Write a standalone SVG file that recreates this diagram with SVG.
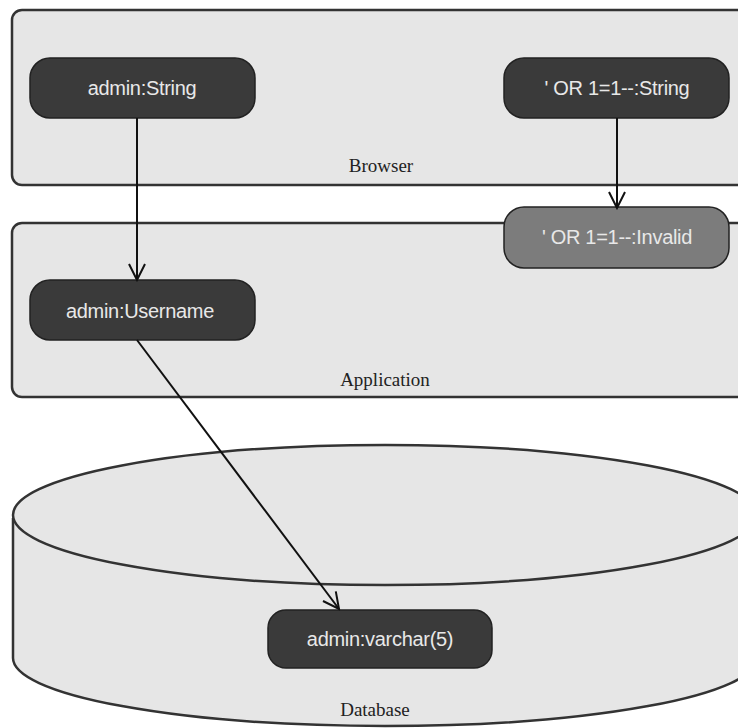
<svg xmlns="http://www.w3.org/2000/svg" width="738" height="728" viewBox="0 0 738 728">
<style>
.zone{fill:#e6e6e6;stroke:#333;stroke-width:2.5}
.node{fill:#3a3a3a;stroke:#222;stroke-width:1.5}
.inv{fill:#7c7c7c;stroke:#222;stroke-width:1.5}
.nt{font-family:"Liberation Sans",Arial,sans-serif;font-size:20px;fill:#e8e8e8;text-anchor:middle;letter-spacing:-0.3px}
.zt{font-family:"Liberation Serif","Times New Roman",serif;font-size:19px;fill:#222;text-anchor:middle}
.edge{stroke:#111;stroke-width:2;fill:none;marker-end:url(#arr)}
</style>
<defs>
<marker id="arr" viewBox="0 0 20 20" refX="18" refY="10" markerWidth="20" markerHeight="20" markerUnits="userSpaceOnUse" orient="auto">
<path d="M2,2 L18,10 L2,18" fill="none" stroke="#111" stroke-width="2"/>
</marker>
</defs>
<rect width="738" height="728" fill="#fff"/>
<g id="browser">
<rect class="zone" x="12" y="10" width="740" height="175" rx="10"/>
<text class="zt" x="381" y="172">Browser</text>
</g>
<g id="application">
<rect class="zone" x="12" y="223" width="740" height="174" rx="10"/>
<text class="zt" x="385" y="386">Application</text>
</g>
<g id="database">
<path class="zone" d="M13,518 L13,658 A372,68 0 0 0 757,658 L757,518"/>
<ellipse class="zone" cx="385" cy="515" rx="372" ry="70"/>
<text class="zt" x="375" y="716">Database</text>
</g>
<g id="n-admin-string">
<rect class="node" x="30" y="58" width="225" height="60" rx="20"/>
<text class="nt" x="142" y="95">admin:String</text>
</g>
<g id="n-or-string">
<rect class="node" x="504" y="58" width="225" height="60" rx="20"/>
<text class="nt" x="617" y="95">' OR 1=1--:String</text>
</g>
<g id="n-admin-username">
<rect class="node" x="30" y="280" width="225" height="60" rx="20"/>
<text class="nt" x="140" y="318">admin:Username</text>
</g>
<g id="n-or-invalid">
<rect class="inv" x="504" y="207" width="225" height="61" rx="20"/>
<text class="nt" x="617" y="244">' OR 1=1--:Invalid</text>
</g>
<g id="n-admin-varchar">
<rect class="node" x="268" y="610" width="224" height="58" rx="18"/>
<text class="nt" x="380" y="646">admin:varchar(5)</text>
</g>
<g id="connectors">
<line class="edge" x1="137" y1="118" x2="137" y2="280"/>
<line class="edge" x1="617" y1="118" x2="617" y2="208"/>
<line class="edge" x1="137" y1="340" x2="339" y2="609"/>
</g>
</svg>
